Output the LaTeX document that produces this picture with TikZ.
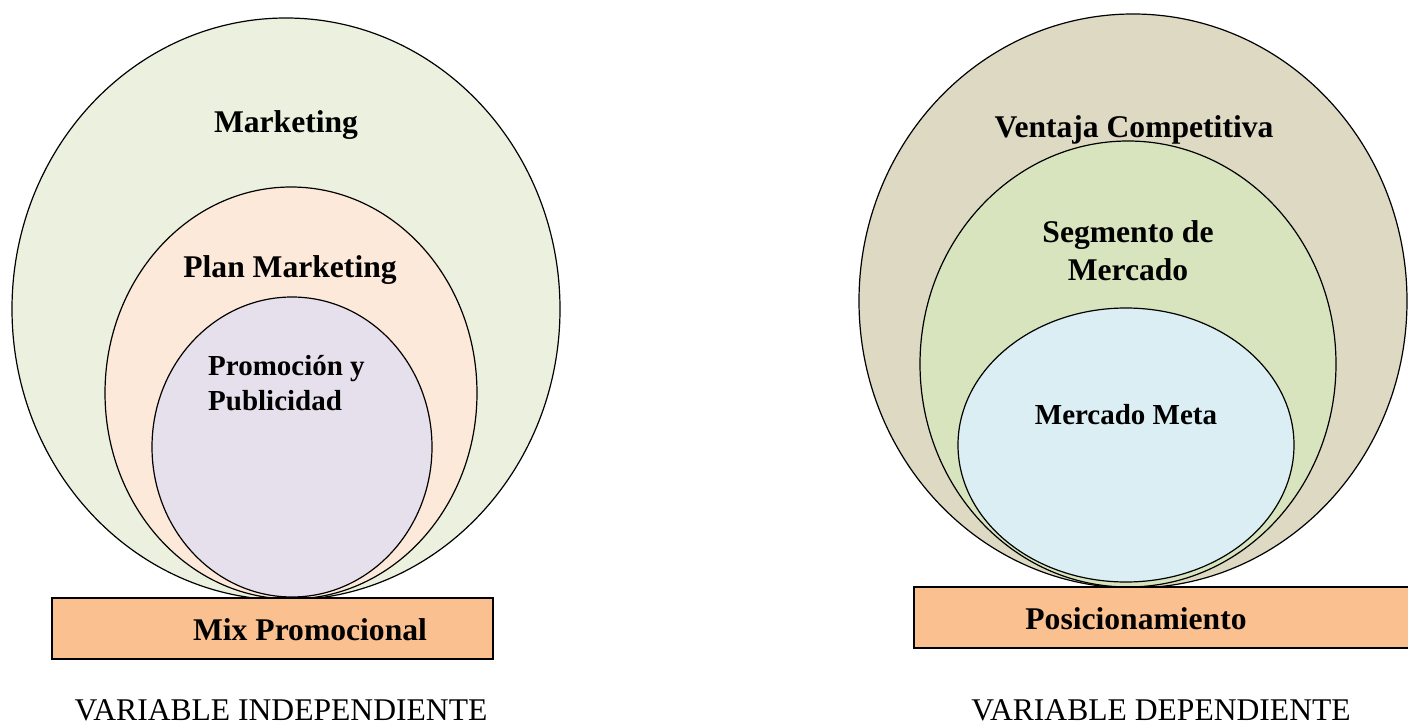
\documentclass[tikz,border=0pt]{standalone}
\usepackage{fontspec}
\setmainfont{Liberation Serif}
\usetikzlibrary{shapes.geometric}
\definecolor{mkgreen}{HTML}{EBF1DE}
\definecolor{mkpeach}{HTML}{FDE9D9}
\definecolor{mklav}{HTML}{E5E0EC}
\definecolor{mkorange}{HTML}{FAC090}
\definecolor{mktan}{HTML}{DDD9C3}
\definecolor{mkolive}{HTML}{D7E4BD}
\definecolor{mkaqua}{HTML}{DAEEF3}
\tikzset{
  ring/.style={ellipse, draw=black, line width=1.2pt, inner sep=0pt, outer sep=0pt},
  bar/.style={rectangle, draw=black, line width=1.2pt, fill=mkorange, inner sep=0pt, outer sep=0pt},
  title/.style={font=\fontsize{31.6}{35}\selectfont\bfseries, inner sep=0pt, anchor=base},
  caption/.style={font=\fontsize{31.6}{35}\selectfont, inner sep=0pt, anchor=base}
}
\begin{document}
\begin{tikzpicture}[x=1pt, y=-1pt]
\useasboundingbox (0,0) rectangle (1408,725);

% left group: independent variable
\node[ring, fill=mkgreen, minimum width=548pt, minimum height=582pt] (mkt) at (286,309) {};
\node[ring, fill=mkpeach, minimum width=372pt, minimum height=412pt] (plan) at (291,393) {};
\node[ring, fill=mklav, minimum width=280pt, minimum height=300pt] (promo) at (292,447) {};
\node[bar, minimum width=441pt, minimum height=61pt] (mix) at (272.5,628.5) {};

\node[title] (tmkt) at (286,132) {Marketing};
\node[title] (tplan) at (290,277) {Plan Marketing};
\node[title, anchor=base west, font=\fontsize{29}{35}\selectfont\bfseries] (tpromo1) at (208,375) {Promoción y};
\node[title, anchor=base west, font=\fontsize{29}{35}\selectfont\bfseries] (tpromo2) at (208,410) {Publicidad};
\node[title] (tmix) at (310,640) {Mix Promocional};
\node[caption] (indep) at (281,720) {VARIABLE INDEPENDIENTE};

% right group: dependent variable
\node[ring, fill=mktan, minimum width=548pt, minimum height=574pt] (vent) at (1133,301) {};
\node[ring, fill=mkolive, minimum width=416pt, minimum height=446pt] (seg) at (1128,364) {};
\node[ring, fill=mkaqua, minimum width=336pt, minimum height=274pt] (meta) at (1126,445) {};
\node[bar, minimum width=500pt, minimum height=61pt] (pos) at (1164,617.5) {};

\node[title] (tvent) at (1134,137) {Ventaja Competitiva};
\node[title] (tseg1) at (1128,242) {Segmento de};
\node[title] (tseg2) at (1128,280) {Mercado};
\node[title, font=\fontsize{29}{35}\selectfont\bfseries] (tmeta) at (1126,424) {Mercado Meta};
\node[title] (tpos) at (1136,629) {Posicionamiento};
\node[caption] (dep) at (1161,720) {VARIABLE DEPENDIENTE};
\end{tikzpicture}
\end{document}
